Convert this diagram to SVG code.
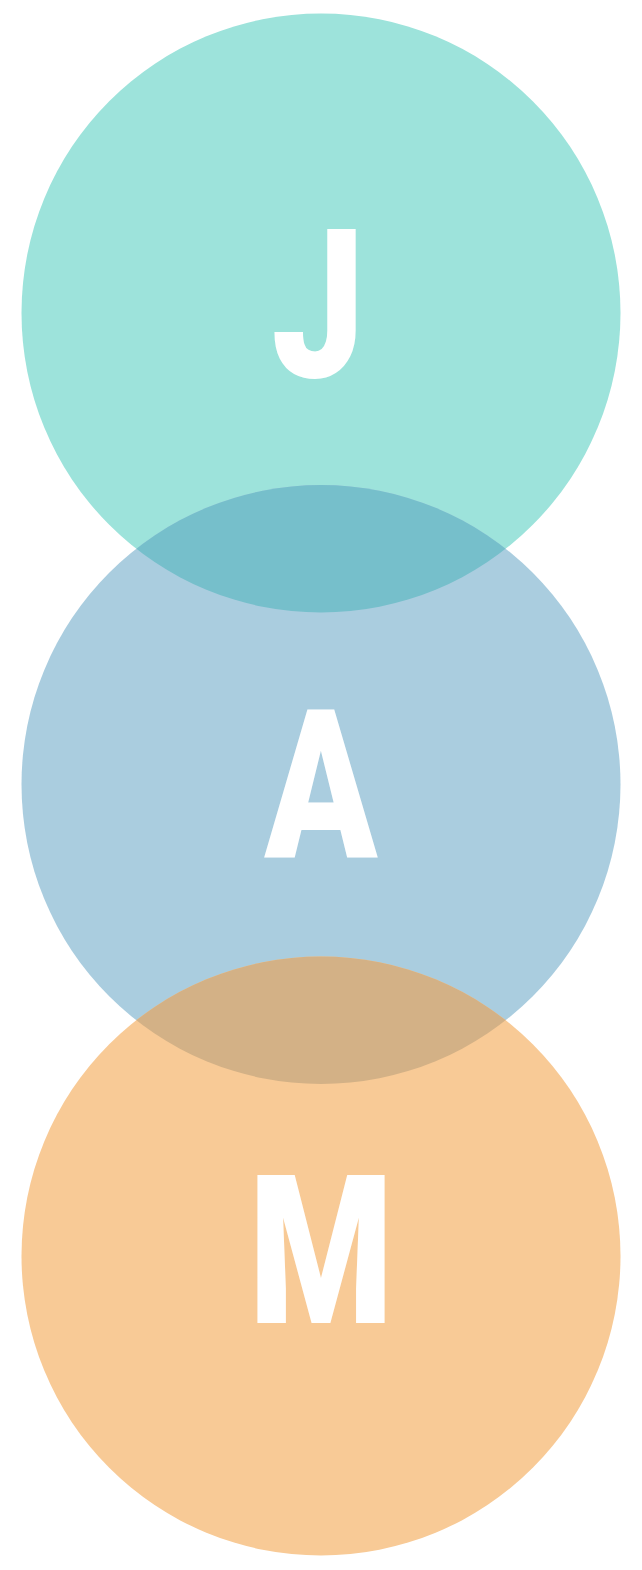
<svg xmlns="http://www.w3.org/2000/svg" width="642" height="1570" viewBox="0 0 642 1570">
<style>
.l{font-family:Roboto,"Liberation Sans",sans-serif;font-weight:900;font-size:207px;fill:#fff;text-anchor:middle}
</style>
<defs>
<clipPath id="c1"><circle cx="321" cy="313" r="299.5"/></clipPath>
<clipPath id="c2"><circle cx="321" cy="784.5" r="299.5"/></clipPath>
</defs>
<rect width="642" height="1570" fill="#fff"/>
<g id="circle-j"><circle cx="321" cy="313" r="299.5" fill="#9DE3DB"/></g>
<g id="circle-a"><circle cx="321" cy="784.5" r="299.5" fill="#AACDDF"/>
<circle cx="321" cy="784.5" r="299.5" fill="#76BFCB" clip-path="url(#c1)"/></g>
<g id="circle-m"><circle cx="321" cy="1256" r="299.5" fill="#F8CA96"/>
<circle cx="321" cy="1256" r="299.5" fill="#D3B186" clip-path="url(#c2)"/></g>
<g id="labels">
<text class="l" transform="translate(318,377) scale(0.8,1)">J</text>
<text class="l" transform="translate(321,858) scale(0.8,1)">A</text>
<text class="l" transform="translate(321,1323) scale(0.8,1)">M</text>
</g>
</svg>
